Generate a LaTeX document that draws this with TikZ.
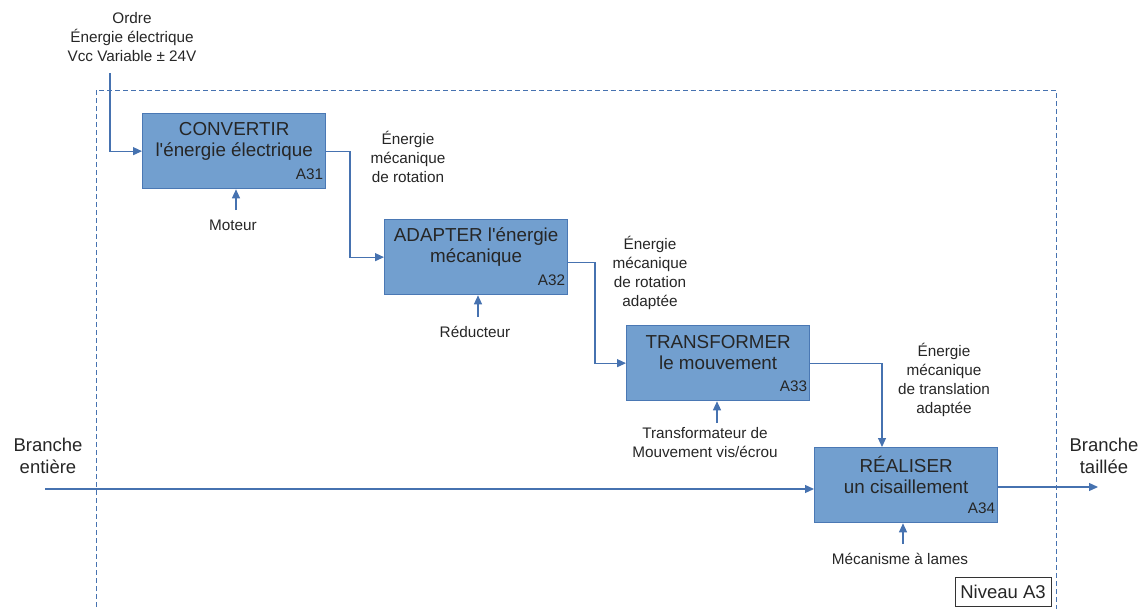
\documentclass[tikz,border=0pt]{standalone}
\usepackage{fontspec}
\setmainfont{Liberation Sans}[Ligatures=TeXOff]
\usetikzlibrary{arrows.meta}
\definecolor{boxfill}{RGB}{114,159,207}
\definecolor{boxline}{RGB}{74,120,180}
\definecolor{wire}{RGB}{70,114,176}
\definecolor{txt}{RGB}{38,38,38}
\begin{document}
\begin{tikzpicture}[x=1pt,y=-1pt,
  fbox/.style={draw=boxline, fill=boxfill, line width=1.3pt, minimum width=183pt, minimum height=75pt, anchor=north west, inner sep=0pt},
  wirel/.style={draw=wire, line width=1.2pt},
  arr/.style={wirel, -{Triangle[length=9pt,width=8pt]}},
  big/.style={font=\fontsize{18.8}{21}\selectfont, text=txt, align=center, inner sep=0pt},
  small/.style={font=\fontsize{15.3}{18.7}\selectfont, text=txt, align=center, inner sep=0pt},
  side/.style={font=\fontsize{18.5}{22}\selectfont, text=txt, align=center, inner sep=0pt},
  idlab/.style={font=\fontsize{15.3}{18}\selectfont, text=txt, inner sep=0pt, anchor=base east},
  frame/.style={draw=wire, line width=1pt, dash pattern=on 5pt off 3pt},
]
\useasboundingbox (0,0) rectangle (1143,608);

% frame
\draw[frame] (96,615) -- (96,90) -- (1056,90) -- (1056,615);
\node[draw=black!80, fill=white, line width=0.8pt, minimum width=96pt, minimum height=29pt, inner sep=0pt,
      font=\fontsize{18.5}{22}\selectfont, text=txt] (niv) at (1003,591.5) {Niveau A3};

% boxes
\node[fbox] (a31) at (142,113) {};
\node[fbox] (a32) at (384,219) {};
\node[fbox] (a33) at (626,325) {};
\node[fbox] (a34) at (814,447) {};

\node[big] (t31) at ([yshift=-28pt]a31.north) {CONVERTIR\\l'énergie électrique};
\node[big] (t32) at ([yshift=-28pt]a32.north) {ADAPTER l'énergie\\mécanique};
\node[big] (t33) at ([yshift=-28pt]a33.north) {TRANSFORMER\\le mouvement};
\node[big] (t34) at ([yshift=-28pt]a34.north) {RÉALISER\\un cisaillement};

\node[idlab] (i31) at ([xshift=-3pt,yshift=10pt]a31.south east) {A31};
\node[idlab] (i32) at ([xshift=-3pt,yshift=10pt]a32.south east) {A32};
\node[idlab] (i33) at ([xshift=-3pt,yshift=10pt]a33.south east) {A33};
\node[idlab] (i34) at ([xshift=-3pt,yshift=10pt]a34.south east) {A34};

% flow labels (base = baseline of last line)
\node[small, anchor=base] (lord) at (132,61) {Ordre\\Énergie électrique\\Vcc Variable ± 24V};
\node[small, anchor=base] (l1) at (408,182) {Énergie\\mécanique\\de rotation};
\node[small, anchor=base] (l2) at (650,306) {Énergie\\mécanique\\de rotation\\adaptée};
\node[small, anchor=base] (l3) at (944,413) {Énergie\\mécanique\\de translation\\adaptée};
\node[side, anchor=base] (lin) at (48,473) {Branche\\entière};
\node[side, anchor=base] (lout) at (1104,473) {Branche\\taillée};

% mechanisms
\node[small, anchor=base] (m1) at (233,230) {Moteur};
\node[small, anchor=base] (m2) at (475,337) {Réducteur};
\node[small, anchor=base] (m3) at (705,457) {Transformateur de\\Mouvement vis/écrou};
\node[small, anchor=base] (m4) at (900,564) {Mécanisme à lames};

\coordinate (c1) at (236,210);
\coordinate (c2) at (478,317);
\coordinate (c3) at (717,423);
\coordinate (c4) at (903,544);
\draw[arr] (c1) -- (c1 |- a31.south);
\draw[arr] (c2) -- (c2 |- a32.south);
\draw[arr] (c3) -- (c3 |- a33.south);
\draw[arr] (c4) -- (c4 |- a34.south);

% main flow
\coordinate (ord) at (110,73);
\coordinate (k1) at (350,0);
\coordinate (k2) at (595,0);
\coordinate (k3) at (882,0);
\coordinate (inb) at (45,489);
\coordinate (outb) at (1098,487);
\draw[arr] (ord) |- (a31.west);
\draw[arr] (a31.east) -| (k1 |- a32.west) -- (a32.west);
\draw[arr] ([yshift=-5pt]a32.east) -| (k2 |- a33.west) -- (a33.west);
\draw[arr] (a33.east) -| (k3 |- a34.north);
\draw[arr] (inb) -- (inb -| a34.west);
\draw[arr] (outb -| a34.east) -- (outb);
\end{tikzpicture}
\end{document}
